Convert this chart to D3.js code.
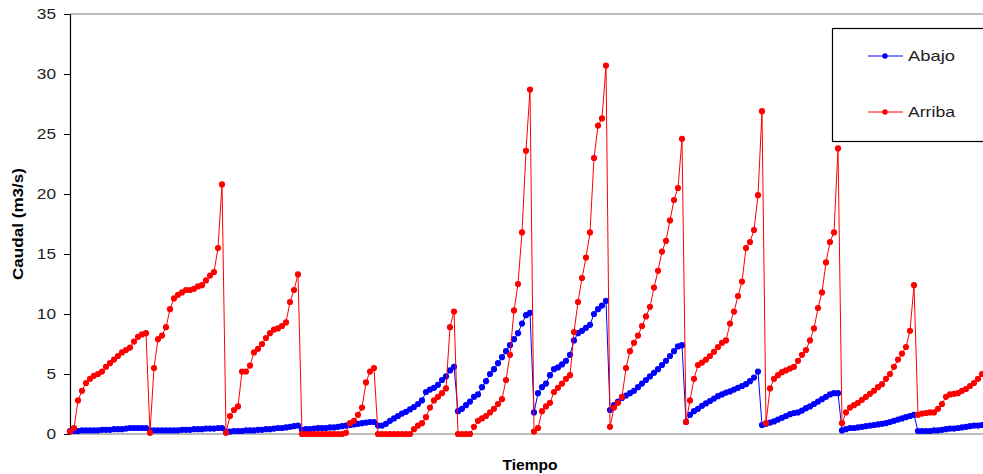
<!DOCTYPE html>
<html>
<head>
<meta charset="utf-8">
<script src="https://cdn.jsdelivr.net/npm/d3@7"></script>
<style>
  body { margin: 0; background: #fff; }
  svg { display: block; font-family: "Liberation Sans", Arial, sans-serif; }
</style>
</head>
<body>
<svg id="chart" width="983" height="474"></svg>
<script>
// Caudal (m3/s), one reading per time step
const abajo = [
  0.25,0.25,0.25,0.3,0.3,0.3,0.3,0.3,0.35,0.35,0.35,0.4,0.4,0.4,0.45,0.5,0.5,0.5,0.5,0.5,
  0.3,0.3,0.3,0.3,0.3,0.3,0.3,0.3,0.35,0.35,0.35,0.4,0.4,0.4,0.45,0.45,0.45,0.5,0.5,
  0.2,0.2,0.25,0.25,0.25,0.3,0.3,0.3,0.35,0.35,0.4,0.4,0.45,0.5,0.5,0.55,0.6,0.65,0.7,
  0.35,0.4,0.4,0.45,0.5,0.5,0.5,0.55,0.55,0.6,0.65,0.7,0.75,0.8,0.85,0.9,0.95,1.0,1.0,
  0.7,0.7,0.85,1.1,1.3,1.5,1.7,1.85,2.05,2.25,2.5,2.8,3.5,3.7,3.85,4.1,4.5,4.8,5.3,5.6,
  1.9,2.1,2.4,2.7,3.1,3.3,3.9,4.4,5.0,5.4,5.9,6.4,6.9,7.4,7.9,8.4,9.2,9.9,10.1,
  1.8,3.4,3.9,4.2,4.9,5.4,5.55,5.8,6.1,6.6,7.8,8.4,8.6,8.85,9.1,10.0,10.4,10.7,11.1,
  2.0,2.4,2.7,3.0,3.2,3.4,3.6,3.9,4.2,4.5,4.8,5.1,5.4,5.75,6.1,6.5,6.9,7.3,7.4,
  1.0,1.6,1.9,2.1,2.35,2.55,2.75,2.95,3.15,3.3,3.45,3.55,3.7,3.85,4.0,4.15,4.4,4.7,5.2,0.75,
  0.85,0.95,1.05,1.2,1.35,1.5,1.65,1.75,1.8,1.95,2.15,2.3,2.5,2.7,2.9,3.1,3.3,3.4,3.4,
  0.3,0.4,0.5,0.5,0.55,0.6,0.65,0.7,0.75,0.8,0.85,0.9,1.0,1.1,1.2,1.3,1.4,1.5,1.6,
  0.25,0.25,0.25,0.25,0.3,0.3,0.35,0.4,0.45,0.45,0.5,0.55,0.6,0.65,0.7,0.7,0.75
];

const arriba = [
  0.2,0.5,2.8,3.6,4.25,4.6,4.85,5.0,5.2,5.6,5.9,6.2,6.5,6.8,7.0,7.2,7.7,8.1,8.3,8.4,
  0.1,5.5,7.9,8.2,8.9,10.4,11.3,11.6,11.8,12.0,12.0,12.1,12.3,12.4,12.8,13.2,13.5,15.5,20.8,
  0.1,1.5,2.0,2.3,5.2,5.2,5.7,6.8,7.1,7.5,8.0,8.4,8.7,8.8,9.0,9.3,11.0,12.0,13.3,
  0,0,0,0,0,0,0,0,0,0,0,0.1,0.9,1.1,1.6,2.2,4.3,5.2,5.5,
  0,0,0,0,0,0,0,0,0,0.4,0.7,0.9,1.4,2.2,2.8,3.1,3.4,3.8,8.9,10.2,
  0,0,0,0,0.6,1.1,1.3,1.5,1.8,2.1,2.5,2.9,4.5,6.6,10.3,12.5,16.8,23.6,28.7,
  0.2,0.5,1.9,2.3,2.6,3.5,3.85,4.2,4.6,4.9,8.5,11.0,13.0,14.7,16.8,23.0,25.7,26.3,30.7,
  0.6,2.2,2.6,3.1,5.5,6.9,7.6,8.2,9.0,9.8,10.6,12.2,13.6,15.2,16.1,17.8,19.5,20.5,24.6,
  1.0,2.8,4.6,5.75,5.95,6.2,6.5,6.85,7.25,7.6,7.8,9.2,10.2,11.5,12.7,15.5,16.0,17.0,19.9,26.9,
  0.9,3.8,4.6,4.9,5.15,5.3,5.45,5.6,6.1,6.6,7.0,7.8,8.8,10.5,11.8,14.3,16.0,16.8,23.8,
  0.9,1.8,2.2,2.4,2.6,2.85,3.1,3.35,3.6,3.9,4.15,4.6,5.0,5.6,6.2,6.7,7.25,8.6,12.4,
  1.6,1.7,1.75,1.8,1.8,2.1,2.5,3.1,3.3,3.35,3.4,3.6,3.75,4.0,4.25,4.6,5.0
];

const seriesNames = ['Abajo', 'Arriba'];
const seriesColors = ['#0000ff', '#ff0000'];
const yTicks = [0, 5, 10, 15, 20, 25, 30, 35];

const series = [
  {name: seriesNames[0], values: abajo, color: seriesColors[0]},
  {name: seriesNames[1], values: arriba, color: seriesColors[1]}
];

const svg = d3.select('#chart');

const x = d3.scaleLinear()
  .domain([0, abajo.length - 1])
  .range([70, 982]);

const y = d3.scaleLinear()
  .domain([0, 35])
  .range([434, 14]);

// top border and base line (grey)
svg.append('line')
  .attr('x1', 70).attr('x2', 983)
  .attr('y1', y(35)).attr('y2', y(35))
  .attr('stroke', '#a6a6a6').attr('stroke-width', 1.5);

svg.append('line')
  .attr('x1', 70).attr('x2', 983)
  .attr('y1', y(0)).attr('y2', y(0))
  .attr('stroke', '#a6a6a6').attr('stroke-width', 1.5);

// y axis
const yAxis = d3.axisLeft(y)
  .tickValues(yTicks)
  .tickSize(6)
  .tickSizeOuter(0)
  .tickPadding(8);

const yAxisG = svg.append('g')
  .attr('transform', 'translate(70,0)')
  .call(yAxis);

yAxisG.select('.domain').attr('stroke', '#000').attr('stroke-width', 1.2);
yAxisG.selectAll('.tick line').attr('stroke', '#000');
yAxisG.selectAll('.tick text')
  .attr('fill', '#222')
  .style('font-size', '15px')
  .attr('textLength', d => String(d).length * 9.6)
  .attr('lengthAdjust', 'spacingAndGlyphs');

// lines + markers
const line = d3.line()
  .x((d, i) => x(i))
  .y(d => y(d))
  .curve(d3.curveLinear);

series.forEach(function(s) {
  const g = svg.append('g');
  g.append('path')
    .datum(s.values)
    .attr('d', line)
    .attr('fill', 'none')
    .attr('stroke', s.color)
    .attr('stroke-width', 1);
  g.selectAll('circle')
    .data(s.values)
    .join('circle')
    .attr('cx', (d, i) => x(i))
    .attr('cy', d => y(d))
    .attr('r', 3.1)
    .attr('fill', s.color);
});

// axis titles
svg.append('text')
  .attr('x', 530).attr('y', 470)
  .attr('text-anchor', 'middle')
  .style('font-size', '15px')
  .style('font-weight', 'bold')
  .attr('textLength', 55)
  .attr('lengthAdjust', 'spacingAndGlyphs')
  .text('Tiempo');

svg.append('text')
  .attr('transform', 'translate(23,224) rotate(-90)')
  .attr('text-anchor', 'middle')
  .style('font-size', '15px')
  .style('font-weight', 'bold')
  .attr('textLength', 112)
  .attr('lengthAdjust', 'spacingAndGlyphs')
  .text('Caudal (m3/s)');

// legend
const legend = svg.append('g');
legend.append('rect')
  .attr('x', 832.5).attr('y', 28.5)
  .attr('width', 170).attr('height', 113)
  .attr('fill', '#fff')
  .attr('stroke', '#000')
  .attr('stroke-width', 1.2);

series.forEach(function(s, i) {
  const ly = 56 + i * 56;
  legend.append('line')
    .attr('x1', 868).attr('x2', 903)
    .attr('y1', ly).attr('y2', ly)
    .attr('stroke', s.color).attr('stroke-width', 1);
  legend.append('circle')
    .attr('cx', 885).attr('cy', ly).attr('r', 2.7)
    .attr('fill', s.color);
  legend.append('text')
    .attr('x', 908).attr('y', ly + 5)
    .style('font-size', '15px')
    .attr('fill', '#222')
    .attr('textLength', 47)
    .attr('lengthAdjust', 'spacingAndGlyphs')
    .text(s.name);
});
</script>
</body>
</html>
